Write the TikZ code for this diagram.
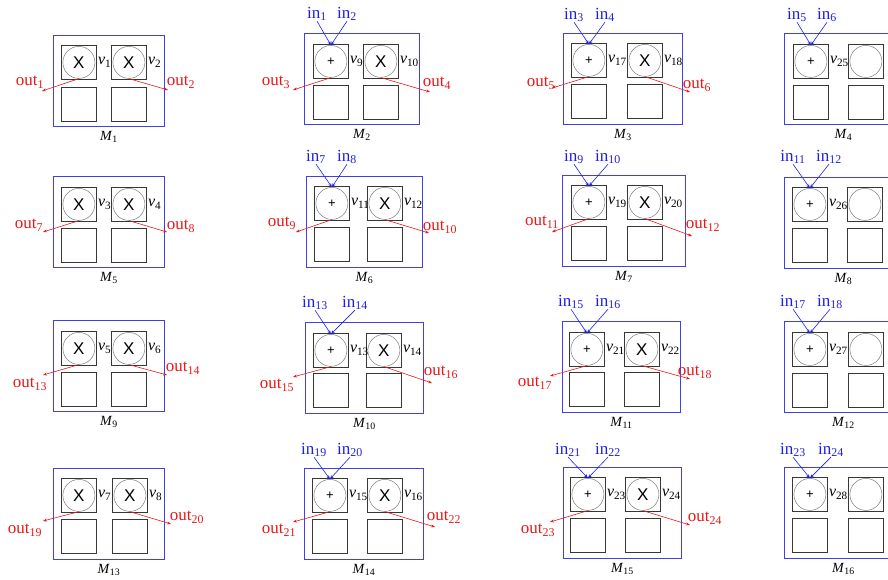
\documentclass[tikz,border=0pt]{standalone}
\usepackage{fontspec}
\setmainfont{Liberation Serif}
\newfontfamily\glyphfont{Liberation Sans}
\usetikzlibrary{arrows.meta}

\definecolor{boxblue}{RGB}{64,64,228}
\definecolor{inblue}{RGB}{30,30,235}
\definecolor{outred}{RGB}{232,24,24}
\definecolor{cellgray}{RGB}{55,55,55}
\definecolor{ringgray}{RGB}{125,125,125}

\tikzset{
  modbox/.style={draw=boxblue, line width=0.9pt, inner sep=0pt, anchor=north west, minimum height=91pt},
  cell/.style={draw=cellgray, line width=0.8pt, minimum width=35pt, minimum height=34pt, inner sep=0pt, anchor=north west},
  ring/.style={circle, draw=ringgray, line width=0.5pt, minimum size=32pt, inner sep=0pt},
  opx/.style={font=\glyphfont\fontsize{17}{17}\selectfont},
  opplus/.style={font=\glyphfont\fontsize{13}{13}\selectfont},
  vlab/.style={anchor=west, inner sep=1pt, font=\fontsize{16}{16}\selectfont},
  mlab/.style={inner sep=0pt, font=\fontsize{14}{14}\selectfont},
  inlab/.style={text=inblue, inner sep=0pt, font=\fontsize{17}{17}\selectfont},
  outlab/.style={text=outred, inner sep=0pt, font=\fontsize{17}{17}\selectfont},
  inarrow/.style={draw=inblue, line width=0.6pt, -{Stealth[length=4pt,width=3pt]}},
  outarrow/.style={draw=outred, line width=0.6pt, -{Stealth[length=4pt,width=3pt]}},
}

% frame of a module: outer box, four cells and its name
% #1 id, #2 left, #3 top, #4 width, #5 left cell x, #6 right cell x,
% #7 upper cell y, #8 lower cell y, #9 module index
\newcommand\modframe[9]{%
  \node[modbox, minimum width=#4pt] (#1) at (#2,#3) {};
  \node[cell] (#1-a) at (#5,#7) {};
  \node[cell] (#1-b) at (#6,#7) {};
  \node[cell] (#1-c) at (#5,#8) {};
  \node[cell] (#1-d) at (#6,#8) {};
  \node[mlab] (#1-name) at ([yshift=-10pt]#1.south) {\textit{M}\textsubscript{#9}};
}

% two inputs feeding one operator
% #1 operator node, #2 name prefix, #3 left label, #4 left index, #5 right label, #6 right index
\newcommand\inpair[6]{%
  \node[inlab] (#2a) at (#3) {in\textsubscript{#4}};
  \node[inlab] (#2b) at (#5) {in\textsubscript{#6}};
  \draw[inarrow] (#2a.south) -- (#1.north);
  \draw[inarrow] (#2b.south) -- (#1.north);
}

% one output leaving an operator
% #1 operator node, #2 tip name, #3 tip, #4 label centre, #5 index
\newcommand\outone[5]{%
  \coordinate (#2) at (#3);
  \node[outlab] (#2-l) at (#4) {out\textsubscript{#5}};
  \draw[outarrow] (#1.south) -- (#2);
}

\newcommand\vname[2]{\textit{v}\textsubscript{#2}}

\begin{document}
\begin{tikzpicture}[x=1pt, y=-1pt]
\useasboundingbox (0,0) rectangle (888,579);

% ---------- row 1 ----------
\modframe{m1}{53}{35}{111}{61}{111}{45}{87}{1}
\node[ring, opx] (m1-u) at (m1-a.center) {X};
\node[ring, opx] (m1-w) at (m1-b.center) {X};
\node[vlab] (m1-v1) at (m1-a.east) {\vname{}{1}};
\node[vlab] (m1-v2) at (m1-b.east) {\vname{}{2}};
\outone{m1-u}{m1-t1}{42,91}{30,82}{1}
\outone{m1-w}{m1-t2}{168,90}{181,82}{2}

\modframe{m2}{304}{33}{115}{313}{363}{44}{85}{2}
\node[ring, opplus] (m2-u) at (m2-a.center) {+};
\node[ring, opx] (m2-w) at (m2-b.center) {X};
\node[vlab] (m2-v1) at (m2-a.east) {\vname{}{9}};
\node[vlab] (m2-v2) at (m2-b.east) {\vname{}{10}};
\inpair{m2-u}{m2-i}{317,14}{1}{347,14}{2}
\outone{m2-u}{m2-t1}{293,90}{276,82}{3}
\outone{m2-w}{m2-t2}{430,92}{437,83}{4}

\modframe{m3}{563}{33}{119}{571}{627}{43}{84}{3}
\node[ring, opplus] (m3-u) at (m3-a.center) {+};
\node[ring, opx] (m3-w) at (m3-b.center) {X};
\node[vlab] (m3-v1) at (m3-a.east) {\vname{}{17}};
\node[vlab] (m3-v2) at (m3-b.east) {\vname{}{18}};
\inpair{m3-u}{m3-i}{574,15}{3}{605,15}{4}
\outone{m3-u}{m3-t1}{552,88}{541,83}{5}
\outone{m3-w}{m3-t2}{690,92}{697,85}{6}

\modframe{m4}{784}{33}{118}{793}{848}{44}{85}{4}
\node[ring, opplus] (m4-u) at (m4-a.center) {+};
\node[ring] (m4-w) at (m4-b.center) {};
\node[vlab] (m4-v1) at (m4-a.east) {\vname{}{25}};
\inpair{m4-u}{m4-i}{797,15}{5}{827,15}{6}

% ---------- row 2 ----------
\modframe{m5}{53}{176}{111}{61}{111}{187}{228}{5}
\node[ring, opx] (m5-u) at (m5-a.center) {X};
\node[ring, opx] (m5-w) at (m5-b.center) {X};
\node[vlab] (m5-v1) at (m5-a.east) {\vname{}{3}};
\node[vlab] (m5-v2) at (m5-b.east) {\vname{}{4}};
\outone{m5-u}{m5-t1}{43,232}{29,225}{7}
\outone{m5-w}{m5-t2}{167,232}{181,226}{8}

\modframe{m6}{306}{176}{116}{314}{367}{186}{227}{6}
\node[ring, opplus] (m6-u) at (m6-a.center) {+};
\node[ring, opx] (m6-w) at (m6-b.center) {X};
\node[vlab] (m6-v1) at (m6-a.east) {\vname{}{11}};
\node[vlab] (m6-v2) at (m6-b.east) {\vname{}{12}};
\inpair{m6-u}{m6-i}{316,157}{7}{347,157}{8}
\outone{m6-u}{m6-t1}{296,232}{282,223}{9}
\outone{m6-w}{m6-t2}{429,233}{440,227}{10}

\modframe{m7}{562}{175}{123}{571}{627}{185}{226}{7}
\node[ring, opplus] (m7-u) at (m7-a.center) {+};
\node[ring, opx] (m7-w) at (m7-b.center) {X};
\node[vlab] (m7-v1) at (m7-a.east) {\vname{}{19}};
\node[vlab] (m7-v2) at (m7-b.east) {\vname{}{20}};
\inpair{m7-u}{m7-i}{574,157}{9}{608,157}{10}
\outone{m7-u}{m7-t1}{552,232}{542,222}{11}
\outone{m7-w}{m7-t2}{692,236}{703,225}{12}

\modframe{m8}{784}{177}{118}{792}{847}{187}{228}{8}
\node[ring, opplus] (m8-u) at (m8-a.center) {+};
\node[ring] (m8-w) at (m8-b.center) {};
\node[vlab] (m8-v1) at (m8-a.east) {\vname{}{26}};
\inpair{m8-u}{m8-i}{793,157}{11}{829,157}{12}

% ---------- row 3 ----------
\modframe{m9}{53}{320}{111}{61}{111}{331}{372}{9}
\node[ring, opx] (m9-u) at (m9-a.center) {X};
\node[ring, opx] (m9-w) at (m9-b.center) {X};
\node[vlab] (m9-v1) at (m9-a.east) {\vname{}{5}};
\node[vlab] (m9-v2) at (m9-b.east) {\vname{}{6}};
\outone{m9-u}{m9-t1}{43,375}{30,384}{13}
\outone{m9-w}{m9-t2}{167,375}{183,368}{14}

\modframe{m10}{305}{322}{118}{313}{366}{333}{373}{10}
\node[ring, opplus] (m10-u) at (m10-a.center) {+};
\node[ring, opx] (m10-w) at (m10-b.center) {X};
\node[vlab] (m10-v1) at (m10-a.east) {\vname{}{13}};
\node[vlab] (m10-v2) at (m10-b.east) {\vname{}{14}};
\inpair{m10-u}{m10-i}{315,303}{13}{355,303}{14}
\outone{m10-u}{m10-t1}{293,377}{277,385}{15}
\outone{m10-w}{m10-t2}{432,383}{441,372}{16}

\modframe{m11}{562}{321}{118}{569}{624}{332}{372}{11}
\node[ring, opplus] (m11-u) at (m11-a.center) {+};
\node[ring, opx] (m11-w) at (m11-b.center) {X};
\node[vlab] (m11-v1) at (m11-a.east) {\vname{}{21}};
\node[vlab] (m11-v2) at (m11-b.east) {\vname{}{22}};
\inpair{m11-u}{m11-i}{571,302}{15}{608,302}{16}
\outone{m11-u}{m11-t1}{550,376}{535,383}{17}
\outone{m11-w}{m11-t2}{690,379}{695,372}{18}

\modframe{m12}{784}{321}{118}{792}{848}{332}{373}{12}
\node[ring, opplus] (m12-u) at (m12-a.center) {+};
\node[ring] (m12-w) at (m12-b.center) {};
\node[vlab] (m12-v1) at (m12-a.east) {\vname{}{27}};
\inpair{m12-u}{m12-i}{793,302}{17}{830,302}{18}

% ---------- row 4 ----------
\modframe{m13}{53}{468}{111}{61}{112}{478}{519}{13}
\node[ring, opx] (m13-u) at (m13-a.center) {X};
\node[ring, opx] (m13-w) at (m13-b.center) {X};
\node[vlab] (m13-v1) at (m13-a.east) {\vname{}{7}};
\node[vlab] (m13-v2) at (m13-b.east) {\vname{}{8}};
\outone{m13-u}{m13-t1}{43,521}{25,530}{19}
\outone{m13-w}{m13-t2}{171,524}{187,517}{20}

\modframe{m14}{304}{468}{119}{312}{367}{478}{519}{14}
\node[ring, opplus] (m14-u) at (m14-a.center) {+};
\node[ring, opx] (m14-w) at (m14-b.center) {X};
\node[vlab] (m14-v1) at (m14-a.east) {\vname{}{15}};
\node[vlab] (m14-v2) at (m14-b.east) {\vname{}{16}};
\inpair{m14-u}{m14-i}{314,450}{19}{350,450}{20}
\outone{m14-u}{m14-t1}{293,522}{279,530}{21}
\outone{m14-w}{m14-t2}{435,527}{444,517}{22}

\modframe{m15}{563}{467}{118}{570}{625}{477}{518}{15}
\node[ring, opplus] (m15-u) at (m15-a.center) {+};
\node[ring, opx] (m15-w) at (m15-b.center) {X};
\node[vlab] (m15-v1) at (m15-a.east) {\vname{}{23}};
\node[vlab] (m15-v2) at (m15-b.east) {\vname{}{24}};
\inpair{m15-u}{m15-i}{568,450}{21}{608,450}{22}
\outone{m15-u}{m15-t1}{550,522}{538,530}{23}
\outone{m15-w}{m15-t2}{690,525}{705,518}{24}

\modframe{m16}{784}{467}{118}{792}{848}{477}{518}{16}
\node[ring, opplus] (m16-u) at (m16-a.center) {+};
\node[ring] (m16-w) at (m16-b.center) {};
\node[vlab] (m16-v1) at (m16-a.east) {\vname{}{28}};
\inpair{m16-u}{m16-i}{793,450}{23}{831,450}{24}
\end{tikzpicture}
\end{document}
